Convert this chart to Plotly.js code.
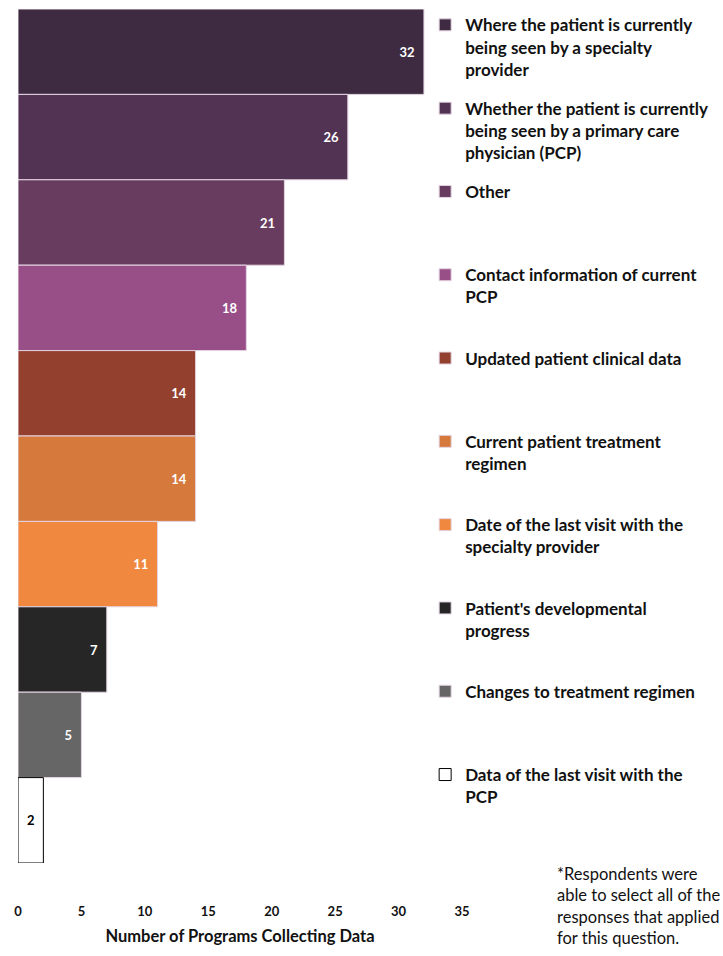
<!DOCTYPE html>
<html>
<head>
<meta charset="utf-8">
<script src="https://cdn.plot.ly/plotly-3.0.1.min.js"></script>
<style>html,body{margin:0;padding:0;background:#fff;}#chart{width:723px;height:956px;}</style>
</head>
<body>
<div id="chart"></div>
<script>
const categories = ["c1","c2","c3","c4","c5","c6","c7","c8","c9","c10"];
const values = [32, 26, 21, 18, 14, 14, 11, 7, 5, 2];
const legendLabels = [
  "Where the patient is currently<br>being seen by a specialty<br>provider",
  "Whether the patient is currently<br>being seen by a primary care<br>physician (PCP)",
  "Other",
  "Contact information of current<br>PCP",
  "Updated patient clinical data",
  "Current patient treatment<br>regimen",
  "Date of the last visit with the<br>specialty provider",
  "Patient's developmental<br>progress",
  "Changes to treatment regimen",
  "Data of the last visit with the<br>PCP"
];
const colors = ["#3e2b41","#523354","#673c5f","#984f88","#93402e","#d5793c","#f0893f","#262626","#666666","#ffffff"];
const xTicks = [0,5,10,15,20,25,30,35];
const footnote = "*Respondents were<br>able to select all of the<br>responses that applied<br>for this question.";
const xTitle = "Number of Programs Collecting Data";

const FONT = "Lato, 'Open Sans', sans-serif";

function padLines(s, n){
  const k = s.split("<br>").length;
  let out = s;
  for (let i = k; i < n; i++) out += "<br>\u00a0";
  return out;
}

const traces = categories.map((c, i) => {
  const last = i === categories.length - 1;
  return {
    type: "bar",
    orientation: "h",
    y: [c],
    x: [values[i]],
    name: padLines(legendLabels[i], 3),
    legendgroup: "g" + i,
    marker: {color: colors[i], line: {color: last ? "#000000" : "#e4d4e2", width: 1}},
    text: [String(values[i])],
    texttemplate: last ? "%{x}" : "%{x}\u00a0\u00a0",
    textposition: "inside",
    insidetextanchor: last ? "middle" : "end",
    textfont: {family: FONT, size: 13, weight: "bold", color: last ? "#000000" : "#ffffff"},
    hoverinfo: "x+name"
  };
});

const layout = {
  width: 723, height: 956,
  margin: {l: 18, r: 261, t: 7, b: 93, pad: 0},
  paper_bgcolor: "#ffffff", plot_bgcolor: "#ffffff",
  barmode: "overlay", bargap: 0,
  showlegend: true,
  legend: {
    x: 0.917, xanchor: "left", y: 1.002, yanchor: "top",
    font: {family: FONT, size: 17, weight: "bold", color: "#111111"},
    valign: "top", tracegroupgap: 14, itemwidth: 30,
    traceorder: "grouped", bgcolor: "rgba(0,0,0,0)",
    maxheight: 950
  },
  xaxis: {
    range: [0, 35], tickvals: xTicks, ticktext: xTicks.map(String),
    showgrid: false, zeroline: false, showline: false,
    ticks: "outside", ticklen: 36, tickcolor: "rgba(0,0,0,0)",
    tickfont: {family: FONT, size: 13, weight: "bold", color: "#111111"},
    title: {text: xTitle, standoff: 12, font: {family: FONT, size: 16.5, weight: "bold", color: "#111111"}},
    fixedrange: true
  },
  yaxis: {
    type: "category", categoryorder: "array", categoryarray: categories,
    autorange: "reversed", showticklabels: false, showgrid: false,
    zeroline: false, showline: false, ticks: "", fixedrange: true
  },
  annotations: [{
    text: footnote, xref: "paper", yref: "paper", x: 1.209, y: 0.001,
    xanchor: "left", yanchor: "top", align: "left", showarrow: false,
    font: {family: FONT, size: 16.5, color: "#111111"}
  }]
};

Plotly.newPlot("chart", traces, layout, {displayModeBar: false, staticPlot: true});
</script>
</body>
</html>
